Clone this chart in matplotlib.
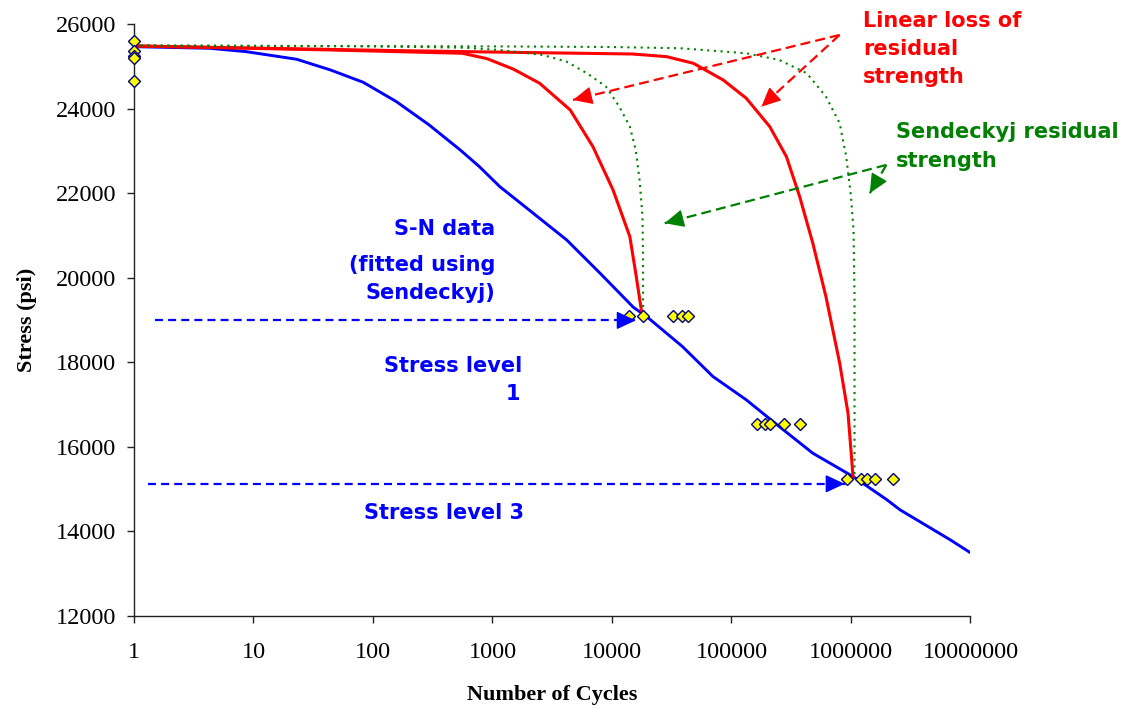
import numpy as np
import matplotlib
matplotlib.use('Agg')
import matplotlib.pyplot as plt

# ---------------------------------------------------------------------------
# Data
# ---------------------------------------------------------------------------
sn_cycles = [1, 4.3, 8.7, 23, 44, 83, 157, 295, 537, 776, 1150, 2190, 4170,
             7940, 15100, 19500, 38900, 70000, 133000, 251000, 479000,
             1040000, 2000000, 2570000, 6760000, 1e7]
sn_stress = [25463, 25425, 25345, 25165, 24913, 24620, 24163, 23612, 23020,
             22627, 22154, 21525, 20894, 20106, 19300, 19080, 18370, 17662,
             17111, 16480, 15849, 15298, 14747, 14511, 13802, 13494]

lin1_cycles = [1, 44, 560, 900, 1500, 2480, 4470, 6920, 10200, 14100, 15800,
               17600, 18000]
lin1_stress = [25480, 25385, 25307, 25180, 24930, 24598, 23967, 23100, 22076,
               20972, 20106, 19239, 19104]

lin3_cycles = [1, 170, 2190, 14800, 28500, 47900, 85100, 133000, 209000,
               288000, 372000, 479000, 617000, 804000, 944000, 1040000]
lin3_stress = [25480, 25369, 25322, 25290, 25228, 25071, 24676, 24243,
               23572, 22863, 21917, 20816, 19553, 17979, 16797, 15300]

sen1_cycles = [1, 100, 560, 1150, 2630, 4170, 6170, 8910, 11500, 14100,
               15800, 17000, 18000, 18200, 18200]
sen1_stress = [25490, 25470, 25440, 25385, 25267, 25109, 24834, 24518,
               24045, 23572, 23021, 22312, 21445, 20343, 19150]

sen3_cycles = [1, 1000, 10000, 37000, 133000, 251000, 427000, 617000,
               804000, 912000, 1000000, 1050000, 1070000, 1070000]
sen3_stress = [25490, 25470, 25455, 25426, 25307, 25149, 24834, 24282,
               23652, 22863, 21917, 21130, 19553, 15300]

test_cycles = [1, 1, 1, 1, 1,
               13800, 18000, 32400, 38500, 43300,
               164800, 189700, 208900, 275000, 371500,
               920000, 1220000, 1350000, 1600000, 2230000]
test_stress = [25605, 25369, 25244, 25189, 24652,
               19104, 19104, 19104, 19104, 19104,
               16536, 16536, 16536, 16536, 16536,
               15244, 15244, 15244, 15244, 15244]

x_ticks = [1, 10, 100, 1000, 10000, 100000, 1000000, 10000000]
y_ticks = list(range(12000, 26001, 2000))

# ---------------------------------------------------------------------------
# Figure
# ---------------------------------------------------------------------------
C_BLUE = '#0000FF'
C_RED = '#FF0000'
C_GREEN = '#008000'
SERIF = ['Liberation Serif', 'DejaVu Serif']
SANS = ['DejaVu Sans']
DPI = 100

fig = plt.figure(figsize=(11.26, 7.09), dpi=DPI, facecolor='white')
ax = fig.add_axes([0.119, 0.1312, 0.7429, 0.835])

ax.plot(sn_cycles, sn_stress, color=C_BLUE, lw=2.1, zorder=3)
ax.plot(lin1_cycles, lin1_stress, color=C_RED, lw=2.2, zorder=3)
ax.plot(lin3_cycles, lin3_stress, color=C_RED, lw=2.2, zorder=3)
ax.plot(sen1_cycles, sen1_stress, color=C_GREEN, lw=1.5,
        linestyle=(0, (1, 2.2)), zorder=3)
ax.plot(sen3_cycles, sen3_stress, color=C_GREEN, lw=1.5,
        linestyle=(0, (1, 2.2)), zorder=3)
ax.plot(test_cycles, test_stress, linestyle='none', marker='D',
        markersize=6, markerfacecolor='#FFFF00', markeredgecolor='#000080',
        markeredgewidth=1.0, zorder=4, clip_on=False)

ax.set_xscale('log')
ax.set_xlim(1, 1e7)
ax.set_ylim(12000, 26000)
ax.set_xticks(x_ticks)
ax.set_xticklabels([str(int(v)) for v in x_ticks])
ax.xaxis.set_minor_locator(matplotlib.ticker.NullLocator())
ax.set_yticks(y_ticks)
ax.set_yticklabels([str(v) for v in y_ticks])

for s in ['top', 'right']:
    ax.spines[s].set_visible(False)
for s in ['left', 'bottom']:
    ax.spines[s].set_color('#222222')
    ax.spines[s].set_linewidth(1.0)
ax.tick_params(axis='both', direction='out', length=5, width=1.0,
               colors='#222222', labelcolor='black', labelsize=17.5)
ax.tick_params(axis='y', pad=8)
ax.tick_params(axis='x', pad=14)
for lab in ax.get_xticklabels() + ax.get_yticklabels():
    lab.set_family(SERIF)

fig.text(27 / 1126, 0.549, 'Stress (psi)', rotation=90, ha='center',
         va='center', fontsize=16, fontweight='bold', family=SERIF)
fig.text(552 / 1126, 1 - 695 / 709, 'Number of Cycles', ha='center',
         va='center', fontsize=16, fontweight='bold', family=SERIF)

# ---------------------------------------------------------------------------
# Annotation arrows: dashed shaft + solid filled head
# ---------------------------------------------------------------------------
def arrow(x0, y0, x1, y1, color, ls, head_px=15):
    ax.plot([x0, x1], [y0, y1], color=color, lw=1.6, linestyle=ls,
            clip_on=False, zorder=5)
    p0 = ax.transData.transform((x0, y0))
    p1 = ax.transData.transform((x1, y1))
    u = (p1 - p0) / np.hypot(*(p1 - p0))
    back = -u * head_px * 72.0 / DPI
    ax.annotate('', xy=(x1, y1), xytext=(back[0], back[1]),
                textcoords='offset points',
                arrowprops=dict(arrowstyle='-|>,head_length=0.6,head_width=0.28',
                                color=color, lw=1.0, mutation_scale=20,
                                shrinkA=0, shrinkB=0),
                annotation_clip=False, zorder=6)

arrow(803000, 25740, 4720, 24203, C_RED, (0, (4.5, 2.3)))
arrow(803000, 25740, 178000, 24045, C_RED, (0, (4.5, 2.3)))
arrow(1977000, 22667, 27600, 21289, C_GREEN, (0, (4.5, 2.3)))
arrow(1977000, 22667, 1436000, 21998, C_GREEN, (0, (4.5, 2.3)))
arrow(1.49, 18990, 15800, 18990, C_BLUE, (0, (3.6, 2.3)), head_px=17)
arrow(1.30, 15125, 885000, 15125, C_BLUE, (0, (3.6, 2.3)), head_px=17)

# ---------------------------------------------------------------------------
# Text labels (pixel positions -> figure fractions)
# ---------------------------------------------------------------------------
W, H = 1126, 709
labels = [
    ('Linear loss of', 863, 26.7, 'left', C_RED),
    ('residual', 863, 55, 'left', C_RED),
    ('strength', 863, 83.3, 'left', C_RED),
    ('Sendeckyj residual', 896, 138.3, 'left', C_GREEN),
    ('strength', 896, 166.7, 'left', C_GREEN),
    ('S-N data', 495, 235, 'right', C_BLUE),
    ('(fitted using', 495, 271, 'right', C_BLUE),
    ('Sendeckyj)', 495, 299, 'right', C_BLUE),
    ('Stress level', 522, 372, 'right', C_BLUE),
    ('1', 520, 400, 'right', C_BLUE),
    ('Stress level 3', 524, 519, 'right', C_BLUE),
]
for txt, px, py, ha, col in labels:
    fig.text(px / W, 1 - py / H, txt, ha=ha, va='baseline', color=col,
             fontsize=15, fontweight='bold', family=SANS)

fig.savefig('out.png', dpi=DPI, facecolor='white')
